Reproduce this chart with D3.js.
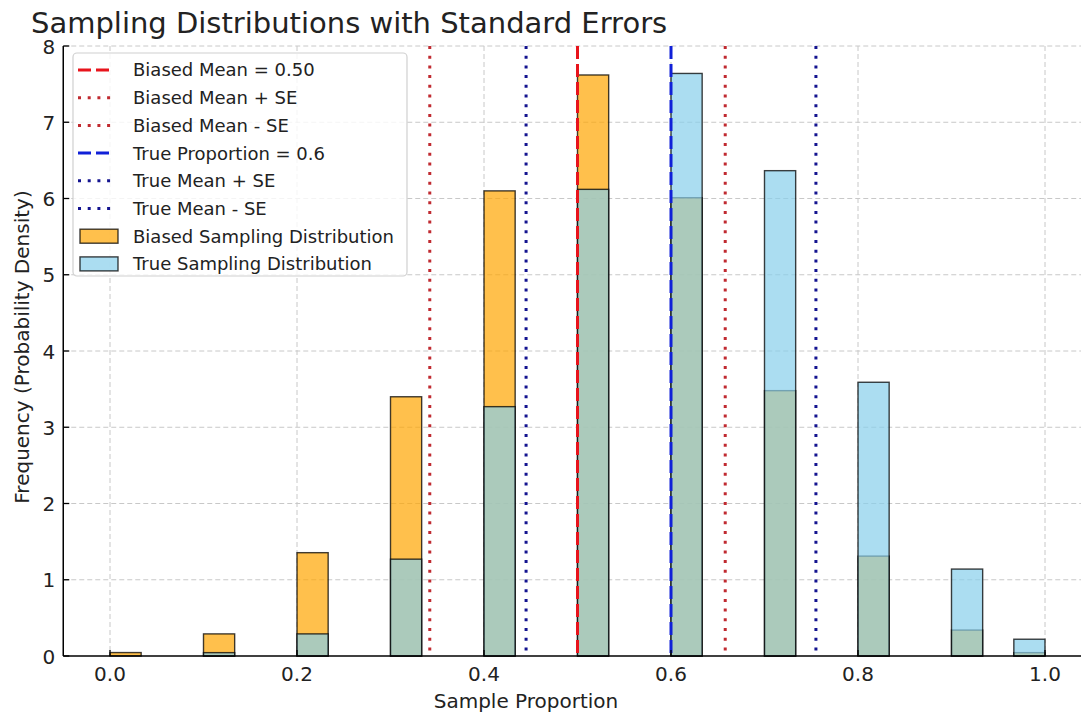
<!DOCTYPE html>
<html lang="en">
<head>
  <meta charset="UTF-8">
  <title>Sampling Distributions with Standard Errors</title>
  <script src="https://d3js.org/d3.v7.min.js"></script>
  <style>
    body { margin: 0; background: #fff; }
    svg { font-family: "DejaVu Sans", sans-serif; display: block; }
  </style>
</head>
<body>
  <svg width="1081" height="713"></svg>

  <script>
    // sample proportions (n = 10) and histogram densities
    const proportions = [0.0, 0.1, 0.2, 0.3, 0.4, 0.5, 0.6, 0.7, 0.8, 0.9, 1.0];
    const biasedDensity = [0.045, 0.29, 1.355, 3.40, 6.10, 7.62, 6.01, 3.48, 1.31, 0.34, 0.044];
    const trueDensity = [0, 0.044, 0.29, 1.27, 3.27, 6.12, 7.64, 6.365, 3.59, 1.14, 0.22];
    const binCount = 30;

    // reference lines
    const lineLabels = ["Biased Mean = 0.50", "Biased Mean + SE", "Biased Mean - SE",
                        "True Proportion = 0.6", "True Mean + SE", "True Mean - SE"];
    const lineValues = [0.50, 0.658, 0.342, 0.6, 0.755, 0.445];
    const histLabels = ["Biased Sampling Distribution", "True Sampling Distribution"];

    const xTicks = [0.0, 0.2, 0.4, 0.6, 0.8, 1.0];
    const yTicks = [0, 1, 2, 3, 4, 5, 6, 7, 8];

    const svg = d3.select("svg");

    const x = d3.scaleLinear().domain([-0.05, 1.05]).range([63.25, 1091.75]);
    const y = d3.scaleLinear().domain([0, 8]).range([656, 46]);
    const plotL = x.range()[0], plotR = 1081, plotT = y(8), plotB = y(0);

    const binW = 1 / binCount;
    const binLeft = p => Math.min(Math.floor(p * binCount + 1e-9), binCount - 1) * binW;

    // grid
    const grid = svg.append("g");
    grid.selectAll(".gx").data(xTicks).enter().append("line")
      .attr("x1", d => x(d)).attr("x2", d => x(d))
      .attr("y1", plotT).attr("y2", plotB)
      .attr("stroke", "#c8c8c8").attr("stroke-width", 1).attr("stroke-dasharray", "5,3");
    grid.selectAll(".gy").data(yTicks.slice(1)).enter().append("line")
      .attr("x1", plotL).attr("x2", plotR)
      .attr("y1", d => y(d)).attr("y2", d => y(d))
      .attr("stroke", "#c8c8c8").attr("stroke-width", 1).attr("stroke-dasharray", "5,3");

    // histograms
    const colors = ["orange", "skyblue"];
    [biasedDensity, trueDensity].forEach((vals, k) => {
      svg.append("g").selectAll("rect")
        .data(proportions.map((p, i) => ({ p, v: vals[i] })).filter(d => d.v > 0))
        .enter().append("rect")
        .attr("x", d => x(binLeft(d.p)))
        .attr("width", d => x(binLeft(d.p) + binW) - x(binLeft(d.p)))
        .attr("y", d => y(d.v))
        .attr("height", d => y(0) - y(d.v))
        .attr("fill", colors[k]).attr("fill-opacity", 0.7)
        .attr("stroke", "#000").attr("stroke-opacity", 0.75).attr("stroke-width", 1.4);
    });

    // vertical reference lines
    const lineStyle = i => ({
      color: i < 3 ? (i === 0 ? "#e8141c" : "#c02a30") : (i === 3 ? "#1020d8" : "#141490"),
      dash: (i === 0 || i === 3) ? "13,5" : "3,6.7"
    });
    svg.append("g").selectAll("line")
      .data(lineValues).enter().append("line")
      .attr("x1", d => x(d)).attr("x2", d => x(d))
      .attr("y1", plotT).attr("y2", plotB)
      .attr("stroke", (d, i) => lineStyle(i).color)
      .attr("stroke-width", 3)
      .attr("stroke-dasharray", (d, i) => lineStyle(i).dash);

    // spines
    svg.append("line").attr("x1", plotL).attr("x2", plotL).attr("y1", plotT).attr("y2", plotB)
      .attr("stroke", "#000").attr("stroke-width", 1.5);
    svg.append("line").attr("x1", plotL).attr("x2", plotR).attr("y1", plotB).attr("y2", plotB)
      .attr("stroke", "#000").attr("stroke-width", 1.5);

    // ticks (inward) and labels
    const xt = svg.append("g");
    xTicks.forEach(t => {
      xt.append("line").attr("x1", x(t)).attr("x2", x(t)).attr("y1", plotB).attr("y2", plotB - 6)
        .attr("stroke", "#000").attr("stroke-width", 1.3);
      xt.append("text").attr("x", x(t)).attr("y", plotB + 25).attr("text-anchor", "middle")
        .style("font-size", "20px").attr("fill", "#222").text(d3.format(".1f")(t));
    });
    const yt = svg.append("g");
    yTicks.forEach(t => {
      yt.append("line").attr("x1", plotL).attr("x2", plotL + 6).attr("y1", y(t)).attr("y2", y(t))
        .attr("stroke", "#000").attr("stroke-width", 1.3);
      yt.append("text").attr("x", plotL - 8).attr("y", y(t)).attr("dy", "0.38em").attr("text-anchor", "end")
        .style("font-size", "20px").attr("fill", "#222").text(t);
    });

    // axis titles
    svg.append("text").attr("x", 526).attr("y", 708).attr("text-anchor", "middle")
      .style("font-size", "20px").attr("fill", "#222").text("Sample Proportion");
    svg.append("text").attr("transform", `translate(29,${(plotT + plotB) / 2 - 4}) rotate(-90)`)
      .attr("text-anchor", "middle").style("font-size", "20px").attr("fill", "#222")
      .text("Frequency (Probability Density)");

    // title
    svg.append("text").attr("x", 31).attr("y", 33)
      .style("font-size", "29px").attr("fill", "#222")
      .text("Sampling Distributions with Standard Errors");

    // legend
    const lg = svg.append("g");
    lg.append("rect").attr("x", 73).attr("y", 53).attr("width", 334).attr("height", 223)
      .attr("rx", 4).attr("fill", "#fff").attr("fill-opacity", 0.8)
      .attr("stroke", "#d0d0d0").attr("stroke-width", 1.2);
    const rowY = i => 70 + i * 27.7;
    lineLabels.forEach((lab, i) => {
      const s = lineStyle(i);
      lg.append("line").attr("x1", 78).attr("x2", 114).attr("y1", rowY(i)).attr("y2", rowY(i))
        .attr("stroke", s.color).attr("stroke-width", 3).attr("stroke-dasharray", s.dash);
      lg.append("text").attr("x", 133).attr("y", rowY(i)).attr("dy", "0.36em")
        .style("font-size", "18px").attr("fill", "#222").text(lab);
    });
    histLabels.forEach((lab, k) => {
      const i = lineLabels.length + k;
      lg.append("rect").attr("x", 80).attr("y", rowY(i) - 7).attr("width", 38).attr("height", 14)
        .attr("fill", colors[k]).attr("fill-opacity", 0.7)
        .attr("stroke", "#000").attr("stroke-opacity", 0.75).attr("stroke-width", 1.4);
      lg.append("text").attr("x", 133).attr("y", rowY(i)).attr("dy", "0.36em")
        .style("font-size", "18px").attr("fill", "#222").text(lab);
    });
  </script>
</body>
</html>
